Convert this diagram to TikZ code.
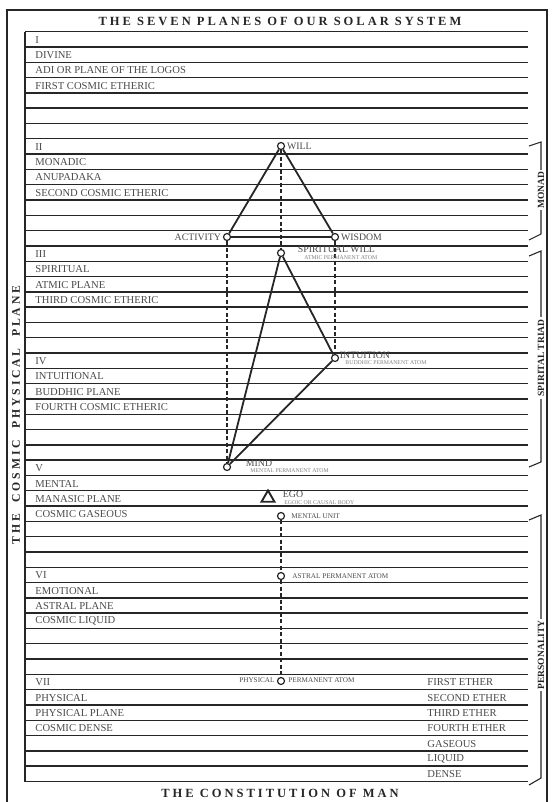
\documentclass[tikz,border=0pt]{standalone}
\usepackage{fontspec}
\setmainfont{Liberation Serif}
\newfontfamily\wideserif[LetterSpace=24]{Liberation Serif}
\usetikzlibrary{shapes.geometric}
\definecolor{ink}{HTML}{262626}
\definecolor{faint}{HTML}{4A4A4A}

\begin{document}
\begin{tikzpicture}[x=1pt,y=-1pt,line width=0.9pt,
  rule/.style={draw=ink,line width=1.4pt},
  rowtext/.style={anchor=west,inner sep=0pt,text=faint,font=\fontsize{10.6}{11}\selectfont},
  atom/.style={circle,draw=ink,fill=white,line width=1.2pt,inner sep=0pt,minimum size=7pt},
  bond/.style={draw=ink,line width=1.8pt},
  link/.style={draw=ink,line width=1.5pt,dash pattern=on 4pt off 2.5pt},
  tag/.style={inner sep=1.5pt,text=faint,font=\fontsize{9.8}{10}\selectfont},
  tiny/.style={anchor=west,inner sep=0pt,text=faint!70,font=\fontsize{5.8}{6}\selectfont},
  small/.style={anchor=west,inner sep=0pt,text=faint,font=\fontsize{7.2}{8}\selectfont},
  brace/.style={draw=ink,line width=1.1pt},
  side/.style={rotate=90,fill=white,inner sep=2pt,text=ink,font=\bfseries\fontsize{9.5}{10}\selectfont},
  heading/.style={text=ink,font=\wideserif\bfseries\fontsize{12.5}{14}\selectfont}]
  \useasboundingbox (0,0) rectangle (552,802);
  % outer frame and headings
  \draw[line width=1.2pt,draw=ink] (7,10) rectangle (547,812);
  \node[heading] (top) at (280,21) {THE SEVEN PLANES OF OUR SOLAR SYSTEM};
  \node[heading] (bottom) at (280,793) {THE CONSTITUTION OF MAN};
  \node[heading,rotate=90,font=\wideserif\bfseries\fontsize{11.7}{14}\selectfont] (cosmic) at (16,415)
    {THE\hspace{1em}COSMIC\hspace{1em}PHYSICAL\hspace{1em}PLANE};
  % table: 7 planes of 7 rows
  \draw[rule] (25,31.7) -- (25,782);
  \foreach \i in {0,...,49}
    \draw[rule] (25,{31.7+15.3*\i}) -- (528,{31.7+15.3*\i});
  \foreach \a/\b/\c/\d [count=\p from 0] in {I/DIVINE/ADI OR PLANE OF THE LOGOS/FIRST COSMIC ETHERIC,
      II/MONADIC/ANUPADAKA/SECOND COSMIC ETHERIC,
      III/SPIRITUAL/ATMIC PLANE/THIRD COSMIC ETHERIC,
      IV/INTUITIONAL/BUDDHIC PLANE/FOURTH COSMIC ETHERIC,
      V/MENTAL/MANASIC PLANE/COSMIC GASEOUS,
      VI/EMOTIONAL/ASTRAL PLANE/COSMIC LIQUID,
      VII/PHYSICAL/PHYSICAL PLANE/COSMIC DENSE}{
    \foreach \t [count=\k from 0] in {\a,\b,\c,\d}
      \node[rowtext] (row-\p-\k) at (35,{39.8+15.3*(7*\p+\k)}) {\t};
  }
  \foreach \t [count=\k from 42] in {FIRST ETHER,SECOND ETHER,THIRD ETHER,FOURTH ETHER,GASEOUS,LIQUID,DENSE}
    \node[rowtext] (ether-\k) at (427,{39.8+15.3*\k}) {\t};
  % monad
  \node[atom] (will) at (281,146) {};
  \node[atom] (activity) at (227,237) {};
  \node[atom] (wisdom) at (335,237) {};
  % spiritual triad
  \node[atom] (swill) at (281,253) {};
  \node[atom] (intuition) at (335,358) {};
  \node[atom] (mind) at (227,467) {};
  % ego and personality
  \node[regular polygon,regular polygon sides=3,draw=ink,line width=1.9pt,inner sep=0pt,minimum size=15pt] (ego) at (268,498) {};
  \node[atom] (munit) at (281,516) {};
  \node[atom] (astral) at (281,576) {};
  \node[atom] (physical) at (281,681) {};
  \draw[bond] (will) -- (activity);
  \draw[bond] (will) -- (wisdom);
  \draw[bond] (activity) -- (wisdom);
  \draw[bond] (swill) -- (mind);
  \draw[bond] (swill) -- (intuition);
  \draw[bond] (intuition) -- (mind);
  \draw[link] (will) -- (swill);
  \draw[link] (activity) -- (mind);
  \draw[link] (wisdom) -- (intuition);
  \draw[link] (munit) -- (astral);
  \draw[link] (astral) -- (physical);
  % labels
  \node[tag,anchor=west] (will-t) at (will.east) {WILL};
  \node[tag,anchor=east] (activity-t) at (activity.west) {ACTIVITY};
  \node[tag,anchor=west] (wisdom-t) at (wisdom.east) {WISDOM};
  \node[tag,anchor=west] (swill-t) at (296,249) {SPIRITUAL WILL};
  \node[tiny] (swill-s) at (304,258) {ATMIC PERMANENT ATOM};
  \node[tag,anchor=west] (intuition-t) at (338,355) {INTUITION};
  \node[tiny] (intuition-s) at (345,363) {BUDDHIC PERMANENT ATOM};
  \node[tag,anchor=west] (mind-t) at (244,463) {MIND};
  \node[tiny] (mind-s) at (250,471) {MENTAL PERMANENT ATOM};
  \node[tag,anchor=west] (ego-t) at (281,494) {EGO};
  \node[tiny] (ego-s) at (284,503) {EGOIC OR CAUSAL BODY};
  \node[small] (munit-t) at (291,516) {MENTAL UNIT};
  \node[small] (astral-t) at (292,576) {ASTRAL PERMANENT ATOM};
  \node[small,anchor=east] (physical-l) at (275,680) {PHYSICAL};
  \node[small] (physical-r) at (288,680) {PERMANENT ATOM};
  % brackets on the right
  \draw[brace] (529,146) -- (541,142) -- (541,234) -- (529,240);
  \node[side] (monad) at (541,190) {MONAD};
  \draw[brace] (529,256) -- (541,251) -- (541,462) -- (529,467);
  \node[side] (triad) at (541,358) {SPIRITAL TRIAD};
  \draw[brace] (529,520) -- (541,515) -- (541,778) -- (529,785);
  \node[side] (person) at (541,655) {PERSONALITY};
\end{tikzpicture}
\end{document}
